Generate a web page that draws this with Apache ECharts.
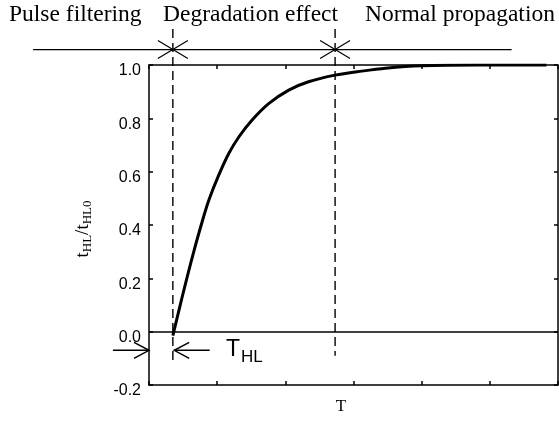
<!DOCTYPE html>
<html>
<head>
<meta charset="utf-8">
<script src="https://cdn.jsdelivr.net/npm/echarts@6/dist/echarts.min.js"></script>
<style>
  html, body { margin: 0; padding: 0; background: #fff; }
  #chart { width: 559px; height: 421px; }
</style>
</head>
<body>
<div id="chart"></div>
<script>
// curve (T in axis units, t_HL/t_HL0)
var curveX = [0.35, 0.50, 0.65, 0.80, 0.88, 1.02, 1.17, 1.32, 1.51, 1.76, 2.05, 2.34, 2.73, 3.12, 3.47, 4.00, 4.80, 5.83];
var curveY = [-0.015, 0.144, 0.294, 0.43, 0.495, 0.585, 0.668, 0.731, 0.793, 0.856, 0.906, 0.937, 0.962, 0.977, 0.988, 0.997, 1.0, 1.0];

var yTicks = [-0.2, 0.0, 0.2, 0.4, 0.6, 0.8, 1.0];
var regionNames = ["Pulse filtering", "Degradation effect", "Normal propagation"];

// region borders (dashed lines) and the rule above the plot
var borderX = [0.35, 2.73];
var borderBottom = [-0.115, -0.09];
var borderTop = 1.135;
var ruleY = 1.058;
var ruleX = [-1.70, 5.32];

// T_HL arrows
var arrowY = -0.07;
var arrowLeft = [-0.53, 0.0];
var arrowRight = [0.89, 0.37];

var myChart = echarts.init(document.getElementById("chart"));

function arrow(api, from, to, y) {
  var a = api.coord([from, y]);
  var b = api.coord([to, y]);
  var dir = b[0] > a[0] ? 1 : -1;
  var st = { stroke: "#000", lineWidth: 1.5, fill: null };
  return [
    { type: "line", shape: { x1: a[0], y1: a[1], x2: b[0], y2: b[1] }, style: st },
    { type: "polyline", shape: { points: [[b[0] - dir * 15, b[1] - 8], [b[0], b[1]], [b[0] - dir * 15, b[1] + 8]] }, style: st }
  ];
}

function renderNotes(params, api) {
  var kids = [];
  var st = { stroke: "#000", lineWidth: 1.2, fill: null };
  var r1 = api.coord([ruleX[0], ruleY]);
  var r2 = api.coord([ruleX[1], ruleY]);
  kids.push({ type: "line", shape: { x1: r1[0], y1: r1[1], x2: r2[0], y2: r2[1] }, style: st });
  for (var i = 0; i < borderX.length; i++) {
    var top = api.coord([borderX[i], borderTop]);
    var bot = api.coord([borderX[i], borderBottom[i]]);
    kids.push({
      type: "line",
      shape: { x1: top[0], y1: top[1], x2: bot[0], y2: bot[1] },
      style: { stroke: "#000", lineWidth: 1.4, lineDash: [9, 5] }
    });
    var c = api.coord([borderX[i], ruleY]);
    kids.push({ type: "line", shape: { x1: c[0] - 15, y1: c[1] - 9, x2: c[0] + 15, y2: c[1] + 9 }, style: st });
    kids.push({ type: "line", shape: { x1: c[0] - 15, y1: c[1] + 9, x2: c[0] + 15, y2: c[1] - 9 }, style: st });
  }
  kids = kids.concat(arrow(api, arrowLeft[0], arrowLeft[1], arrowY));
  kids = kids.concat(arrow(api, arrowRight[0], arrowRight[1], arrowY));
  return { type: "group", children: kids };
}

var serifTop = { fontFamily: "Liberation Serif", fontSize: 23.5, fill: "#000" };

var option = {
  animation: false,
  grid: { left: 149, right: 1, top: 65, bottom: 36 },
  xAxis: [0, 1].map(function (k) {
    return {
      type: "value",
      min: 0,
      max: 6,
      interval: 1,
      position: k === 0 ? "bottom" : "top",
      axisLine: { onZero: false, lineStyle: { color: "#000", width: 1.5 } },
      axisTick: { inside: true, length: 4, lineStyle: { color: "#000", width: 1.5 } },
      axisLabel: { show: false },
      splitLine: { show: false }
    };
  }),
  yAxis: [0, 1].map(function (k) {
    return {
      type: "value",
      min: yTicks[0],
      max: yTicks[yTicks.length - 1],
      interval: 0.2,
      position: k === 0 ? "left" : "right",
      axisLine: { onZero: false, lineStyle: { color: "#000", width: 1.5 } },
      axisTick: { inside: true, length: 4, lineStyle: { color: "#000", width: 1.5 } },
      axisLabel: {
        show: k === 0,
        margin: 8,
        verticalAlign: "top",
        lineHeight: 12,
        color: "#000",
        fontFamily: "Liberation Sans",
        fontSize: 16,
        formatter: function (v) { return v.toFixed(1); }
      },
      splitLine: { show: false }
    };
  }),
  series: [
    {
      type: "line",
      data: curveX.map(function (x, i) { return [x, curveY[i]]; }),
      smooth: 0.3,
      showSymbol: false,
      symbol: "none",
      lineStyle: { color: "#000", width: 3 },
      z: 5,
      markLine: {
        silent: true,
        symbol: "none",
        label: { show: false },
        lineStyle: { color: "#000", width: 1.5, type: "solid" },
        data: [{ yAxis: 0 }]
      }
    },
    {
      type: "custom",
      data: [[0, 0]],
      silent: true,
      renderItem: renderNotes,
      z: 4
    }
  ],
  graphic: [
    { type: "text", x: 9, y: 15, style: Object.assign({ text: regionNames[0], verticalAlign: "middle" }, serifTop) },
    { type: "text", x: 163, y: 15, style: Object.assign({ text: regionNames[1], verticalAlign: "middle" }, serifTop) },
    { type: "text", x: 365, y: 15, style: Object.assign({ text: regionNames[2], verticalAlign: "middle" }, serifTop) },
    {
      type: "text", x: 341, y: 407,
      style: { text: "T", align: "center", verticalAlign: "middle", fontFamily: "Liberation Serif", fontSize: 17, fill: "#000" }
    },
    {
      type: "text", x: 226, y: 350,
      style: {
        text: "{m|T}{s|HL}",
        verticalAlign: "middle",
        rich: {
          m: { fontFamily: "Liberation Sans", fontSize: 23, lineHeight: 26, color: "#000" },
          s: { fontFamily: "Liberation Sans", fontSize: 17, lineHeight: 18, padding: [14, 0, 0, 1], color: "#000" }
        }
      }
    },
    {
      type: "text", x: 83, y: 229, rotation: Math.PI / 2,
      style: {
        text: "{m|t}{s|HL}{m|/t}{s|HL0}",
        align: "center",
        verticalAlign: "middle",
        rich: {
          m: { fontFamily: "Liberation Serif", fontSize: 19, lineHeight: 20, color: "#000" },
          s: { fontFamily: "Liberation Serif", fontSize: 13, lineHeight: 12, padding: [10, 0, 0, 0], color: "#000" }
        }
      }
    }
  ]
};
myChart.setOption(option);
</script>
</body>
</html>
